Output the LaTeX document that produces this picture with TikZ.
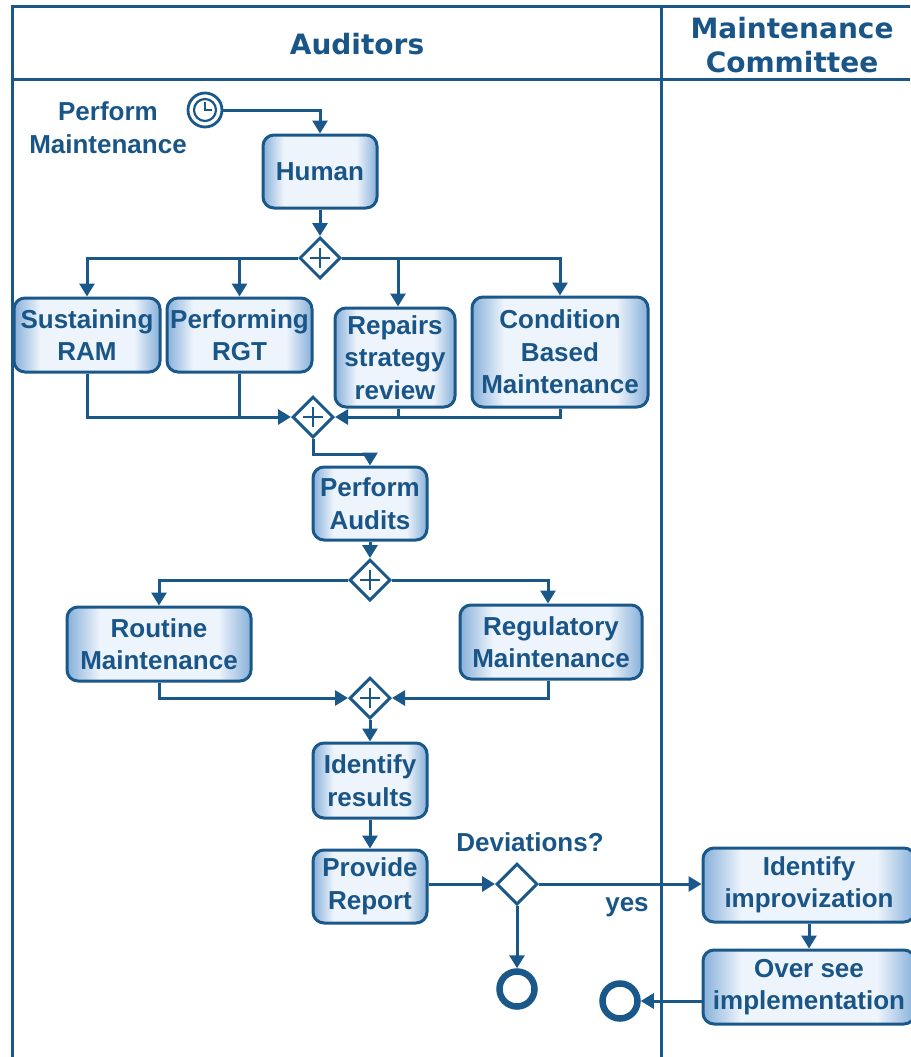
\documentclass[tikz,border=0pt]{standalone}
\usepackage{fontspec}
\setmainfont{Liberation Sans}
\newfontfamily\headfont{DejaVu Sans}
\usetikzlibrary{arrows.meta,shapes.geometric,calc}

\definecolor{lc}{RGB}{27,88,138}
\definecolor{tc}{RGB}{25,85,135}
\definecolor{bedge}{RGB}{135,176,218}
\definecolor{bmid}{RGB}{238,244,251}
\pgfdeclarehorizontalshading{taskshade}{100bp}{color(0bp)=(bedge); color(25bp)=(bedge); color(34bp)=(bmid); color(66bp)=(bmid); color(75bp)=(bedge); color(100bp)=(bedge)}

\tikzset{
  task/.style={draw=lc, line width=3pt, rounded corners=11pt, shade, shading=taskshade,
    text=tc, align=center, inner sep=0pt, font=\fontsize{26}{32.5}\selectfont\bfseries},
  gw/.style={diamond, draw=lc, fill=white, line width=3pt, minimum width=41pt,
    minimum height=41pt, inner sep=0pt},
  plusgw/.style={gw, path picture={
    \draw[lc, line width=2.8pt] ($(path picture bounding box.center)+(-10pt,0pt)$) -- ++(20pt,0pt)
      ($(path picture bounding box.center)+(0pt,-10pt)$) -- ++(0pt,20pt);}},
  arr/.style={draw=lc, line width=3pt, -{Triangle[length=13pt,width=15pt]}},
  ln/.style={draw=lc, line width=3pt},
  endev/.style={circle, draw=lc, line width=6.5pt, minimum size=35pt, inner sep=0pt},
  lbl/.style={text=tc, align=center, font=\fontsize{26}{33}\selectfont\bfseries},
  head/.style={text=tc, align=center, font=\fontsize{28}{34}\selectfont\headfont\bfseries}
}

\begin{document}
\begin{tikzpicture}[x=1pt, y=-1pt]
\useasboundingbox (0,0) rectangle (910,1057);

% pool and lanes
\draw[ln] (12,1057) -- (12,7) -- (910,7);
\draw[ln] (12,79) -- (910,79);
\draw[ln] (661,7) -- (661,1057);
\node[head] (hAud) at (357,44) {Auditors};
\node[head] (hCom) at (792,45) {Maintenance\\Committee};

% timer start event
\node[circle, draw=lc, line width=2.8pt, minimum size=34pt, inner sep=0pt, fill=white,
  path picture={
    \coordinate (cc) at (path picture bounding box.center);
    \draw[lc, line width=2.2pt] (cc) circle (11pt);
    \draw[lc, line width=2pt] ($(cc)+(0pt,8pt)$) -- (cc) -- ($(cc)+(7pt,0pt)$);
  }] (start) at (205,110) {};
\node[lbl] (startlbl) at (108,127.5) {Perform\\Maintenance};

% tasks
\node[task, minimum width=114pt, minimum height=73pt] (human) at (320,171.5) {Human};
\node[task, minimum width=146pt, minimum height=74pt] (sus) at (87,335) {Sustaining\\RAM};
\node[task, minimum width=145pt, minimum height=74pt] (prf) at (239.5,335) {Performing\\RGT};
\node[task, minimum width=120pt, minimum height=99pt] (rep) at (395,357.5) {Repairs\\strategy\\review};
\node[task, minimum width=176pt, minimum height=110pt] (cbm) at (560,352) {Condition\\Based\\Maintenance};
\node[task, minimum width=114pt, minimum height=73pt] (aud) at (370,503.5) {Perform\\Audits};
\node[task, minimum width=184pt, minimum height=74pt] (rout) at (159,644) {Routine\\Maintenance};
\node[task, minimum width=182pt, minimum height=74pt] (reg) at (551,642) {Regulatory\\Maintenance};
\node[task, minimum width=114pt, minimum height=75pt] (idr) at (370,780.5) {Identify\\results};
\node[task, minimum width=114pt, minimum height=73pt] (rpt) at (370,886.5) {Provide\\Report};
\node[task, minimum width=212pt, minimum height=74pt] (imp) at (809,885) {Identify\\improvization};
\node[task, minimum width=212pt, minimum height=74pt] (ovr) at (809,987) {Over see\\implementation};

% gateways
\node[plusgw] (g1) at (320,258) {};
\node[plusgw] (g2) at (313,417) {};
\node[plusgw] (g3) at (370,580) {};
\node[plusgw] (g4) at (370,698) {};
\node[gw] (g5) at (517,884) {};
\node[lbl] (devlbl) at (530,842) {Deviations?};
\node[lbl] (yeslbl) at (627,907) {yes};

% end events
\node[endev] (end1) at (517,989) {};
\node[endev] (end2) at (620,1001) {};

% sequence flows
\draw[arr] (start.east) -| (human.north);
\draw[arr] (human.south) -- (g1.north);
\draw[arr] (g1.west) -| (sus.north);
\draw[arr] (g1.west) -| (prf.north);
\draw[arr] (g1.east) -| ([xshift=3pt]rep.north);
\draw[arr] (g1.east) -| (cbm.north);
\draw[arr] (sus.south) |- (g2.west);
\draw[ln] (prf.south) -- (prf.south |- g2.west);
\draw[arr] (cbm.south) |- (g2.east);
\draw[ln] ([xshift=3pt]rep.south) -- ([xshift=3pt]rep.south |- g2.east);
\draw[arr] (g2.south) -- ++(0,15) -| (aud.north);
\draw[arr] (aud.south) -- (g3.north);
\draw[arr] (g3.west) -| (rout.north);
\draw[arr] (g3.east) -| ([xshift=-3pt]reg.north);
\draw[arr] (rout.south) |- (g4.west);
\draw[arr] ([xshift=-3pt]reg.south) |- (g4.east);
\draw[arr] (g4.south) -- (idr.north);
\draw[arr] (idr.south) -- (rpt.north);
\draw[arr] (rpt.east |- g5.west) -- (g5.west);
\draw[arr] (g5.east) -- (g5.east -| imp.west);
\draw[arr] (g5.south) -- (end1.north);
\draw[arr] (imp.south) -- (ovr.north);
\draw[arr] (ovr.west |- end2.east) -- (end2.east);
\end{tikzpicture}
\end{document}
